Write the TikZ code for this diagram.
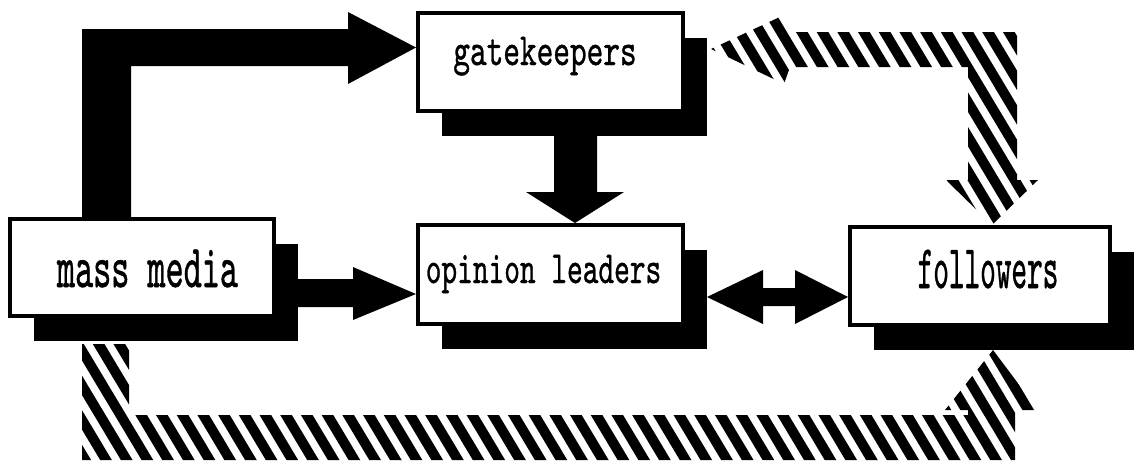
\documentclass[tikz,border=0pt]{standalone}
\usepackage{fontspec}
\usepackage{graphicx}
\usetikzlibrary{calc,shadows}
\newfontfamily\tw[FakeBold=1]{lmmono10-regular.otf}
\newcommand\myhatch{\foreach \k in {-16,...,58} {\draw[line width=10pt] ({\k*20.7-10},-10) -- ++(290,484);}}
\begin{document}
\begin{tikzpicture}[x=1pt,y=-1pt,
  box/.style={draw=black, line width=4pt, fill=white, inner sep=0pt,
    drop shadow={shadow xshift=23.5pt, shadow yshift=-25pt, fill=black, opacity=1}},
  lbl/.style={anchor=base, inner sep=0pt, font=\tw\fontsize{#1}{#1}\selectfont},
  blk/.style={fill=black}]
\useasboundingbox (0,0) rectangle (1135,464);
% boxes
\node[box, minimum width=265pt, minimum height=98pt] (gk) at (550.5,62) {};
\node[box, minimum width=264pt, minimum height=97pt] (mm) at (142,267.5) {};
\node[box, minimum width=265pt, minimum height=99pt] (ol) at (550.5,274.5) {};
\node[box, minimum width=260pt, minimum height=98pt] (fo) at (980,276) {};
% labels
\node[lbl=46] (gkt) at (545,65) {\scalebox{0.69}[1]{gatekeepers}};
\node[lbl=61] (mmt) at (147.5,287) {\scalebox{0.565}[1]{mass media}};
\node[lbl=46] (olt) at (543.5,283) {\scalebox{0.65}[1]{opinion leaders}};
\node[lbl=62] (fot) at (988,288) {\scalebox{0.48}[1]{followers}};
% mass media -> gatekeepers
\fill[blk] (mm.north -| 82,0) -- (82,29) -- (348,29) -- (348,12) -- (gk.west |- 0,47.5)
  -- (348,84) -- (348,66) -- (131,66) -- (mm.north -| 131,0) -- cycle;
% gatekeepers -> opinion leaders
\fill[blk] (gk.south -| 554,0) -- (554,192) -- (526,192) -- (ol.north -| 575,0)
  -- (624,192) -- (597,192) -- (gk.south -| 597,0) -- cycle;
% mass media -> opinion leaders
\fill[blk] (mm.east |- 0,279) -- (353,279) -- (353,267) -- (ol.west |- 0,294)
  -- (353,320) -- (353,307) -- (mm.east |- 0,307) -- cycle;
% opinion leaders <-> followers
\coordinate (olr) at ($(ol.east)+(22,22.5)$);
\fill[blk] (olr) -- (763,270) -- (763,288) -- (795,288) -- (795,270) -- (fo.west |- 0,297)
  -- (795,324) -- (795,306) -- (763,306) -- (763,324) -- cycle;
% hatched: gatekeepers <-> followers
\begin{scope}
\clip (711,49) -- (782,16) -- (790,32) -- (1017,32) -- (1017,180) -- (1038,180)
  -- (fo.north -| 992,0) -- (946,180) -- (968,180) -- (968,67) -- (790,67) -- (784,84) -- cycle;
\myhatch
\end{scope}
% hatched: mass media -> followers
\coordinate (mmb) at ($(mm.south west)+(74,26)$);
\begin{scope}
\clip (mmb) -- (129,344) -- (129,415) -- (968,415) -- (968,410) -- (945,410)
  -- ($(fo.south)+(13,23)$) -- (1038,410) -- (1015,410) -- (1015,460) -- (82,460) -- cycle;
\myhatch
\end{scope}
\end{tikzpicture}
\end{document}
